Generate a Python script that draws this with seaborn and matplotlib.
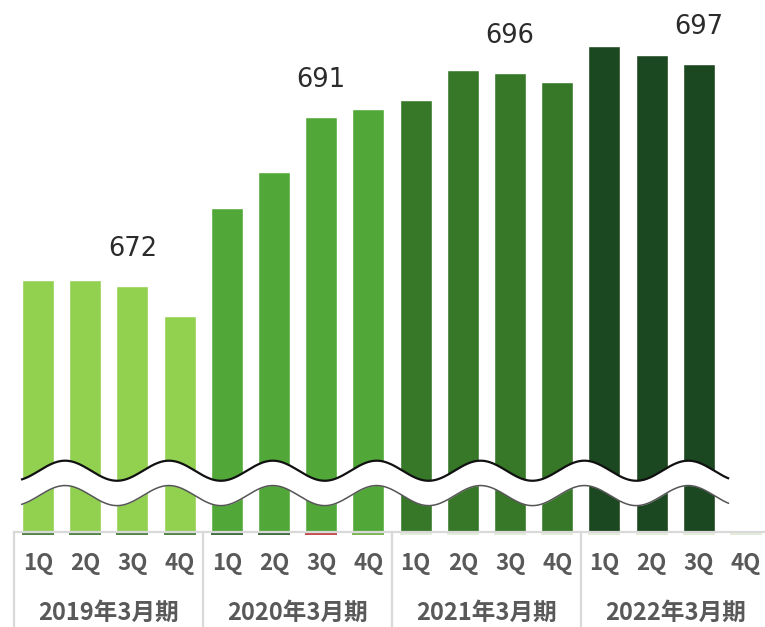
import numpy as np
import pandas as pd
import matplotlib
matplotlib.use("Agg")
import matplotlib.pyplot as plt
import matplotlib.transforms as mtransforms
import seaborn as sns

# Quarterly values per fiscal year (4Q of FY2022 not yet reported)
fiscal_years = ["2019年3月期", "2020年3月期", "2021年3月期", "2022年3月期"]
quarters = ["1Q", "2Q", "3Q", "4Q"]
fy2019 = [672.7, 672.7, 672.0, 668.6]
fy2020 = [680.8, 684.8, 691.0, 691.9]
fy2021 = [692.9, 696.3, 696.0, 695.0]
fy2022 = [699.0, 698.0, 697.0, np.nan]
year_colors = ["#92d050", "#51a838", "#367828", "#1b4820"]
underline_colors = ["#3f7a34"] * 4 + ["#2e5e2e", "#2e5e2e", "#c0393b", "#70ad47"] + ["#e3ecd6"] * 8

values = fy2019 + fy2020 + fy2021 + fy2022
df = pd.DataFrame({
    "slot": [f"{y}-{q}" for y in fiscal_years for q in quarters],
    "quarter": quarters * 4,
    "year": [y for y in fiscal_years for _ in quarters],
    "value": values,
})

sns.set_theme(style="white")
plt.rcParams["font.family"] = ["DejaVu Sans"]

fig = plt.figure(figsize=(7.65, 6.27), dpi=100)
ax = fig.add_axes([14.4 / 765, 95 / 627, 750.6 / 765, 532 / 627])

sns.barplot(data=df, x="slot", y="value", hue="year", order=df["slot"].tolist(),
            hue_order=fiscal_years, palette=year_colors, dodge=False,
            width=0.678, saturation=1, legend=False, ax=ax)

ax.set_xlim(-0.5, 15.4)
ax.set_ylim(644.3, 704.2)
ax.set_xlabel("")
ax.set_ylabel("")
ax.set_yticks([])
ax.set_xticks([])
for side in ["top", "left", "right"]:
    ax.spines[side].set_visible(False)
ax.spines["bottom"].set_color("#d9d9d9")
ax.spines["bottom"].set_linewidth(1.6)

# Value labels on the 3Q bar of each fiscal year
for i, v in enumerate(values):
    if quarters[i % 4] == "3Q":
        ax.annotate(f"{v:.0f}", (i, v), xytext=(0, 21.5), textcoords="offset points",
                    ha="center", va="baseline", fontsize=18.5, color="#2b2b2b")

# Axis break: white band bounded by two waves
wx = np.linspace(-0.36, 14.64, 600)
period, trough, amp = 2.2, 1.674, 1.13
phase = np.cos(2 * np.pi * (wx - trough) / period)
upper = 651.2 - amp * phase
lower = 648.4 - amp * phase
ax.fill_between(wx, lower, upper, color="white", zorder=5, lw=0)
ax.plot(wx, upper, color="#111111", lw=1.6, zorder=6, solid_capstyle="butt")
ax.plot(wx, lower, color="#555555", lw=1.1, zorder=6, solid_capstyle="butt")

# Category table below the plot
trans = mtransforms.blended_transform_factory(ax.transData, ax.transAxes)
for i, c in enumerate(underline_colors):
    ax.plot([i - 0.339, i + 0.339], [-0.0045, -0.0045], transform=trans,
            color=c, lw=1.3, clip_on=False, solid_capstyle="butt")
for b in [-0.5, 3.5, 7.5, 11.5]:
    ax.plot([b, b], [0, -0.2], transform=trans, color="#d9d9d9", lw=1.6, clip_on=False)

cjk = ["Noto Sans CJK JP", "DejaVu Sans"]
for i, q in enumerate(df["quarter"]):
    ax.text(i, -0.0714, q, transform=trans, ha="center", va="baseline",
            fontsize=16, fontweight="bold", color="#595959", family=cjk)
for k, y in enumerate(fiscal_years):
    ax.text(4 * k + 1.5, -0.1654, y, transform=trans, ha="center", va="baseline",
            fontsize=17, fontweight="bold", color="#595959", family=cjk)

fig.savefig("out.png", dpi=100, facecolor="white")
